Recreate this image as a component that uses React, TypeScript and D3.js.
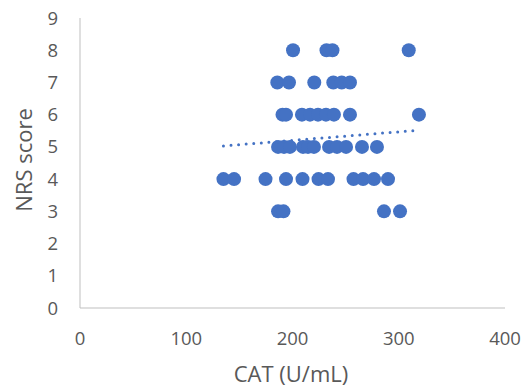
import React, { useEffect, useRef } from 'react';
import * as d3 from 'd3';

// CAT (U/mL) vs NRS score
const catValues = [
  200.5, 232, 237.6, 309.4,
  185.7, 196.7, 220.5, 238.4, 246.3, 254.1,
  190.6, 193.9, 208.9, 216.5, 224, 231.5, 239, 254.1, 319,
  186.4, 192, 197.6, 209.9, 214.6, 220.2, 234.4, 241.9, 250.4, 265.4, 279.5,
  135, 145, 174.6, 193.9, 209.4, 224.5, 233.4, 257.4, 266.4, 276.7, 289.9,
  186.4, 191.5, 286.1, 301.2,
];
const nrsValues = [
  8, 8, 8, 8,
  7, 7, 7, 7, 7, 7,
  6, 6, 6, 6, 6, 6, 6, 6, 6,
  5, 5, 5, 5, 5, 5, 5, 5, 5, 5, 5,
  4, 4, 4, 4, 4, 4, 4, 4, 4, 4, 4,
  3, 3, 3, 3,
];

const xTicks = [0, 100, 200, 300, 400];
const yTicks = [0, 1, 2, 3, 4, 5, 6, 7, 8, 9];

// linear trendline as drawn in the reference
const trendSlope = 0.00266;
const trendIntercept = 4.67;

const App = () => {
  const ref = useRef<SVGSVGElement | null>(null);

  useEffect(() => {
    if (!ref.current) return;
    const svg = d3.select(ref.current);
    svg.selectAll('*').remove();

    const font = "'Open Sans', sans-serif";
    const textColor = '#595959';
    const blue = '#4472C4';

    const x = d3.scaleLinear().domain([0, 400]).range([80, 505]);
    const y = d3.scaleLinear().domain([0, 9]).range([308, 18]);

    // axis lines
    svg.append('line')
      .attr('x1', x(0)).attr('x2', x(0))
      .attr('y1', y(9)).attr('y2', y(0))
      .attr('stroke', '#BFBFBF').attr('stroke-width', 1);
    svg.append('line')
      .attr('x1', x(0)).attr('x2', x(400))
      .attr('y1', y(0)).attr('y2', y(0))
      .attr('stroke', '#BFBFBF').attr('stroke-width', 1);

    svg.selectAll('.xtick')
      .data(xTicks)
      .enter()
      .append('text')
      .attr('x', d => x(d))
      .attr('y', 345)
      .attr('text-anchor', 'middle')
      .attr('font-family', font)
      .attr('font-size', 18.5)
      .attr('fill', textColor)
      .text(d => d);

    svg.selectAll('.ytick')
      .data(yTicks)
      .enter()
      .append('text')
      .attr('x', 58)
      .attr('y', d => y(d) + 6.5)
      .attr('text-anchor', 'end')
      .attr('font-family', font)
      .attr('font-size', 18.5)
      .attr('fill', textColor)
      .text(d => d);

    svg.append('text')
      .attr('x', 291)
      .attr('y', 382)
      .attr('text-anchor', 'middle')
      .attr('font-family', font)
      .attr('font-size', 22)
      .attr('fill', textColor)
      .text('CAT (U/mL)');

    svg.append('text')
      .attr('transform', 'translate(32,160) rotate(-90)')
      .attr('text-anchor', 'middle')
      .attr('font-family', font)
      .attr('font-size', 22)
      .attr('fill', textColor)
      .text('NRS score');

    const points = catValues.map((c, i) => ({ cat: c, nrs: nrsValues[i] }));

    svg.selectAll('.dot')
      .data(points)
      .enter()
      .append('circle')
      .attr('cx', d => x(d.cat))
      .attr('cy', d => y(d.nrs))
      .attr('r', 7)
      .attr('fill', blue);

    const [minX, maxX] = d3.extent(catValues) as [number, number];
    const line = d3.line<number>()
      .x(d => x(d))
      .y(d => y(trendIntercept + trendSlope * d));
    svg.append('path')
      .attr('d', line([minX, maxX]))
      .attr('fill', 'none')
      .attr('stroke', blue)
      .attr('stroke-width', 3)
      .attr('stroke-linecap', 'round')
      .attr('stroke-dasharray', '0 7.6');
  }, []);

  return (
    <div style={{ position: 'absolute', left: 0, top: 0 }}>
      <svg ref={ref} width={528} height={389} style={{ display: 'block', background: '#fff' }} />
    </div>
  );
};

export default App;
